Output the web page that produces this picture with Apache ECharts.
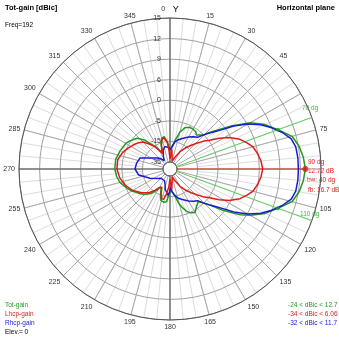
<!DOCTYPE html>
<html><head><meta charset="utf-8">
<script src="https://cdn.jsdelivr.net/npm/echarts@6/dist/echarts.min.js"></script>
<style>html,body{margin:0;padding:0;background:#fff}#c{width:339px;height:339px}</style>
</head><body><div id="c"></div>
<script>
// ---- data (dBic) ----
const ringDb = [-35, -15, -5, 0, 6, 9, 12, 15];
const ringLabels = ['-35', '-15', '-5', '0', '6', '9', '12', '15'];
const angleTicks = [0,15,30,45,60,75,90,105,120,135,150,165,180,195,210,225,240,255,270,285,300,315,330,345];

const totAngles = [0,2,5,8,10,15,20,25,30,35,38,41,44,47,50,55,60,65,70,75,80,85,90,95,100,105,110,115,120,123,125,128,132,136,139,141,145,150,155,158,162,166,170,174,177,180,183,186,190,193,196,200,204,207,210,214,218,225,231,240,246,255,262,270,280,290,300,305,313,319,323,326,330,333,337,341,345,350,354,357];
const totGain   = [-23,-24,-21,-17,-14.3,-9.9,-7.0,-6.0,-6.0,-6.5,-7.5,-7.5,-5.5,-3.8,-2.1,1.8,6.5,8.3,9.72,11.4,12.1,12.5,12.72,12.5,12.1,11.4,9.72,8.3,6.5,4.5,2.4,-0.4,-3.6,-5.5,-7.5,-7.5,-6.0,-4.5,-5.0,-6.0,-8.5,-11.4,-15.6,-18.5,-21,-21,-16,-12.4,-12,-11.9,-12.4,-14.8,-20.4,-22.4,-20.4,-15.6,-13.3,-10.9,-9.5,-7.0,-5.5,-4.1,-3.6,-3.3,-3.3,-3.8,-4.3,-4.8,-6.5,-9.9,-13.3,-15,-20,-23,-21.4,-14.8,-12.9,-12.4,-15,-19];

const lhcpAngles = [0,5,10,15,22,30,36,42,46,50,54,58,62,67,71,75,80,85,90,95,100,105,109,113,118,122,126,130,134,138,144,150,158,165,170,175,180,184,188,192,196,200,204,207,211,216,222,230,240,250,260,270,280,289,296,303,310,315,321,326,331,335,340,344,348,351,354,357];
const lhcpGain   = [-32,-22,-30,-34,-30,-22.4,-16.6,-12.9,-10.4,-7.5,-4.8,-2.6,-0.4,2.1,3.6,5.0,5.9,6.3,6.5,6.3,5.9,5.0,3.6,2.1,-0.4,-2.6,-4.8,-7.5,-10.4,-12.9,-16.6,-22.4,-30,-34,-30,-22,-32,-24,-17.5,-13.3,-13.3,-16.6,-22.4,-24,-20.4,-15.6,-12.9,-10.4,-7.5,-5.3,-4.3,-3.8,-3.8,-4.5,-5.5,-7.0,-8.5,-9.9,-12.9,-15.6,-22.4,-25.3,-17.5,-14,-12.8,-12.8,-15.5,-24];

const rhcpAngles = [0,2,6,10,15,22,30,36,41,44,47,50,53,56,60,64,68,72,76,80,85,90,95,100,104,108,112,116,120,124,127,130,133,136,139,144,150,158,165,170,175,178,181,184,188,193,198,205,215,225,231,245,259,270,280,290,300,310,318,325,332,340,347,352,357];
const rhcpGain   = [-23.4,-25,-20,-15,-13.8,-12.4,-10.4,-9.0,-8.0,-5.7,-4.0,-2.6,-0.8,2.4,6.1,7.7,9.0,10.2,11.2,11.6,11.7,11.7,11.7,11.6,11.2,10.2,9.0,7.7,6.1,2.4,-0.8,-2.6,-4.0,-5.7,-8.0,-9.0,-10.4,-12.4,-13.8,-16,-20,-24,-20,-16,-17.5,-21.4,-26.3,-29.2,-30,-29.2,-27.2,-20.4,-12.9,-11.4,-11.9,-12.9,-20.4,-25.3,-28.2,-32,-28.2,-22.4,-19.4,-18.5,-21];

const peakAngle = 90, peakGain = 12.72;
const beamAngles = [70, 110], beamGain = 9.72;

// ---- layout ----
const CX = 170, CY = 169, R0 = 7, R1 = 151;
const RING_MAX = ringDb.length - 1;
const POLE = -R0 / ((R1 - R0) / RING_MAX); // ring value at the pole

// piecewise-linear radial scale of the plot (dB -> ring index)
function dbToRing(db) {
  if (db <= ringDb[0]) return (db - ringDb[0]) / (ringDb[1] - ringDb[0]);
  for (let i = 0; i < RING_MAX; i++) {
    if (db <= ringDb[i + 1]) return i + (db - ringDb[i]) / (ringDb[i + 1] - ringDb[i]);
  }
  return RING_MAX + (db - ringDb[RING_MAX]) / (ringDb[RING_MAX] - ringDb[RING_MAX - 1]);
}
function curve(angles, gains) {
  const d = angles.map((a, i) => [dbToRing(gains[i]), a]);
  d.push([d[0][0], angles[0] + 360]);
  return d;
}

const FONT = 'Liberation Sans';
const GREEN = '#1e9a1e', RED = '#e01818', BLUE = '#1a1ad0';

function lineSeries(data, color, width, z) {
  return { type: 'line', coordinateSystem: 'polar', polarIndex: 0, data: data, showSymbol: false,
    symbol: 'none', clip: false, silent: true, animation: false, z: z,
    lineStyle: { color: color, width: width } };
}

const chart = echarts.init(document.getElementById('c'), null, { renderer: 'canvas' });
const txt = (x, y, s, color, size, bold, align) => ({ type: 'text', x: x, y: y, silent: true,
  style: { text: s, fill: color, font: (bold ? 'bold ' : '') + size + 'px "' + FONT + '"',
    textAlign: align || 'left', textVerticalAlign: 'middle' } });

chart.setOption({
  animation: false,
  backgroundColor: '#fff',
  polar: [
    { center: [CX, CY], radius: [R0, R1] },
    { center: [CX, CY], radius: [R0 + (R1 - R0) / RING_MAX, R1] }
  ],
  angleAxis: [
    { polarIndex: 0, type: 'value', min: 0, max: 360, interval: 15, startAngle: 90, clockwise: true, z: 2,
      axisLine: { lineStyle: { color: '#555', width: 1 } },
      axisTick: { show: false },
      splitLine: { lineStyle: { color: '#a8a8a8', width: 1 } },
      axisLabel: { margin: 4, color: '#333', fontSize: 7, fontFamily: FONT,
        formatter: v => (v === 0 ? '0    {y|Y}' : (angleTicks.includes(v) && v !== 60 && v !== 90 ? String(v) : '')),
        rich: { y: { fontSize: 9, color: '#000', fontFamily: FONT } } } },
    { polarIndex: 1, type: 'value', min: 0, max: 360, interval: 5, startAngle: 90, clockwise: true, z: 1,
      axisLine: { show: false }, axisTick: { show: false }, axisLabel: { show: false },
      splitLine: { lineStyle: { color: '#dcdcdc', width: 1 } } }
  ],
  radiusAxis: [
    { polarIndex: 0, type: 'value', min: 0, max: RING_MAX, interval: 1, z: 2,
      axisLine: { show: false }, axisTick: { show: false },
      splitLine: { lineStyle: { color: '#a0a0a0', width: 1 } },
      axisLabel: { color: '#333', fontSize: 7, fontFamily: FONT, margin: 9,
        formatter: v => ringLabels[v] || '' } },
    { polarIndex: 1, type: 'value', min: 0, max: 1, axisLine: { show: false }, axisTick: { show: false },
      axisLabel: { show: false }, splitLine: { show: false } }
  ],
  series: [
    lineSeries([[RING_MAX, 0], [RING_MAX, 180]], '#555', 1, 3),
    lineSeries([[RING_MAX, 270], [POLE, 270]], '#555', 1, 3),
    lineSeries([[POLE, beamAngles[0]], [RING_MAX + 0.9, beamAngles[0]]], '#5ccf5c', 1, 4),
    lineSeries([[POLE, beamAngles[1]], [RING_MAX + 0.9, beamAngles[1]]], '#5ccf5c', 1, 4),
    lineSeries([[POLE, peakAngle], [dbToRing(peakGain), peakAngle]], RED, 1, 4),
    lineSeries(curve(totAngles, totGain), GREEN, 1.5, 5),
    lineSeries(curve(rhcpAngles, rhcpGain), BLUE, 1.5, 6),
    lineSeries(curve(lhcpAngles, lhcpGain), RED, 1.5, 7),
    { type: 'scatter', coordinateSystem: 'polar', polarIndex: 0, symbolSize: 4, z: 8, silent: true,
      itemStyle: { color: GREEN }, data: beamAngles.map(a => [dbToRing(beamGain), a]) },
    { type: 'scatter', coordinateSystem: 'polar', polarIndex: 0, symbolSize: 6, z: 9, silent: true,
      itemStyle: { color: RED }, data: [[dbToRing(peakGain), peakAngle]] }
  ],
  graphic: [
    txt(5, 8, 'Tot-gain [dBic]', '#000', 7.5, true),
    txt(5, 25, 'Freq=192', '#000', 6.5),
    txt(335, 8, 'Horizontal plane', '#000', 7.5, true, 'right'),
    txt(5, 305, 'Tot-gain', GREEN, 6.5),
    txt(5, 314, 'Lhcp-gain', RED, 6.5),
    txt(5, 323, 'Rhcp-gain', BLUE, 6.5),
    txt(5, 332, 'Elev.= 0', '#000', 6.5),
    txt(288, 305, '-24 < dBic < 12.7', GREEN, 6.5),
    txt(288, 314, '-34 < dBic < 6.06', RED, 6.5),
    txt(288, 323, '-32 < dBic < 11.7', BLUE, 6.5),
    txt(308, 162, '90 dg', RED, 6.5),
    txt(308, 171, '12.72 dB', RED, 6.5),
    txt(307, 180, 'bw: 40 dg', RED, 6.5),
    txt(308, 190, 'fb: 16.7 dB', RED, 6.5),
    txt(302, 108, '70 dg', '#3cb83c', 6.5),
    txt(300, 214, '110 dg', '#3cb83c', 6.5)
  ]
});
</script></body></html>
